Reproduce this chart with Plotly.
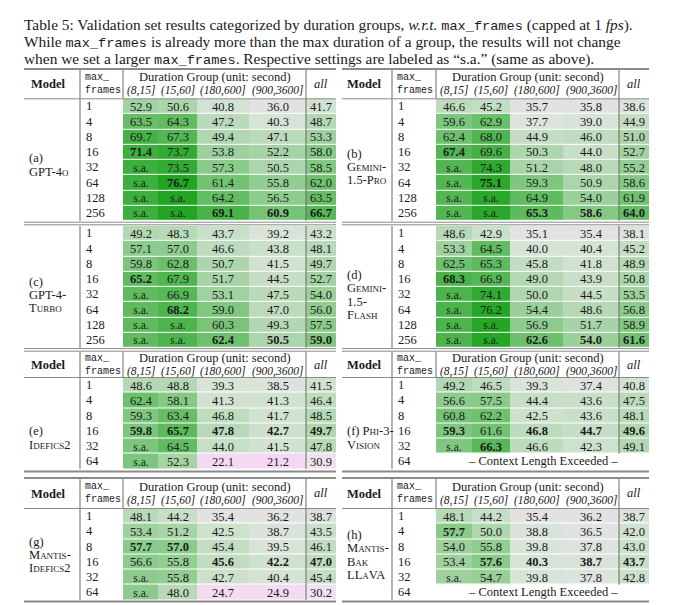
import re
import plotly.graph_objects as go

W, H = 680, 605
SA = None  # printed as "s.a." (same as above)

durations = ["(8,15]", "(15,60]", "(180,600]", "(900,3600]"]
frames_8 = ["1", "4", "8", "16", "32", "64", "128", "256"]
frames_6 = ["1", "4", "8", "16", "32", "64"]

gpt4o = [
    [52.9, 50.6, 40.8, 36.0, 41.7],
    [63.5, 64.3, 47.2, 40.3, 48.7],
    [69.7, 67.3, 49.4, 47.1, 53.3],
    [71.4, 73.7, 53.8, 52.2, 58.0],
    [SA, 73.5, 57.3, 50.5, 58.5],
    [SA, 76.7, 61.4, 55.8, 62.0],
    [SA, SA, 64.2, 56.5, 63.5],
    [SA, SA, 69.1, 60.9, 66.7],
]
gemini_pro = [
    [46.6, 45.2, 35.7, 35.8, 38.6],
    [59.6, 62.9, 37.7, 39.0, 44.9],
    [62.4, 68.0, 44.9, 46.0, 51.0],
    [67.4, 69.6, 50.3, 44.0, 52.7],
    [SA, 74.3, 51.2, 48.0, 55.2],
    [SA, 75.1, 59.3, 50.9, 58.6],
    [SA, SA, 64.9, 54.0, 61.9],
    [SA, SA, 65.3, 58.6, 64.0],
]
gpt4_turbo = [
    [49.2, 48.3, 43.7, 39.2, 43.2],
    [57.1, 57.0, 46.6, 43.8, 48.1],
    [59.8, 62.8, 50.7, 41.5, 49.7],
    [65.2, 67.9, 51.7, 44.5, 52.7],
    [SA, 66.9, 53.1, 47.5, 54.0],
    [SA, 68.2, 59.0, 47.0, 56.0],
    [SA, SA, 60.3, 49.3, 57.5],
    [SA, SA, 62.4, 50.5, 59.0],
]
gemini_flash = [
    [48.6, 42.9, 35.1, 35.4, 38.1],
    [53.3, 64.5, 40.0, 40.4, 45.2],
    [62.5, 65.3, 45.8, 41.8, 48.9],
    [68.3, 66.9, 49.0, 43.9, 50.8],
    [SA, 74.1, 50.0, 44.5, 53.5],
    [SA, 76.2, 54.4, 48.6, 56.8],
    [SA, SA, 56.9, 51.7, 58.9],
    [SA, SA, 62.6, 54.0, 61.6],
]
idefics2 = [
    [48.6, 48.8, 39.3, 38.5, 41.5],
    [62.4, 58.1, 41.3, 41.3, 46.4],
    [59.3, 63.4, 46.8, 41.7, 48.5],
    [59.8, 65.7, 47.8, 42.7, 49.7],
    [SA, 64.5, 44.0, 41.5, 47.8],
    [SA, 52.3, 22.1, 21.2, 30.9],
]
phi3_vision = [  # 64 frames: context length exceeded
    [49.2, 46.5, 39.3, 37.4, 40.8],
    [56.6, 57.5, 44.4, 43.6, 47.5],
    [60.8, 62.2, 42.5, 43.6, 48.1],
    [59.3, 61.6, 46.8, 44.7, 49.6],
    [SA, 66.3, 46.6, 42.3, 49.1],
]
mantis_idefics2 = [
    [48.1, 44.2, 35.4, 36.2, 38.7],
    [53.4, 51.2, 42.5, 38.7, 43.5],
    [57.7, 57.0, 45.4, 39.5, 46.1],
    [56.6, 55.8, 45.6, 42.2, 47.0],
    [SA, 55.8, 42.7, 40.4, 45.4],
    [SA, 48.0, 24.7, 24.9, 30.2],
]
mantis_bakllava = [  # 64 frames: context length exceeded
    [48.1, 44.2, 35.4, 36.2, 38.7],
    [57.7, 50.0, 38.8, 36.5, 42.0],
    [54.0, 55.8, 39.8, 37.8, 43.0],
    [53.4, 57.6, 40.3, 38.7, 43.7],
    [SA, 54.7, 39.8, 37.8, 42.8],
]

# (row, col) of the bold entries
bold_gpt4o = [(3, 0), (5, 1), (7, 2), (7, 3), (7, 4)]
bold_gemini_pro = [(3, 0), (5, 1), (7, 2), (7, 3), (7, 4)]
bold_gpt4_turbo = [(3, 0), (5, 1), (7, 2), (7, 3), (7, 4)]
bold_gemini_flash = [(3, 0), (7, 2), (7, 3), (7, 4)]
bold_idefics2 = [(3, 0), (3, 1), (3, 2), (3, 3), (3, 4)]
bold_phi3 = [(3, 0), (4, 1), (3, 2), (3, 3), (3, 4)]
bold_mantis_idefics2 = [(2, 0), (2, 1), (3, 2), (3, 3), (3, 4)]
bold_mantis_bakllava = [(1, 0), (3, 1), (3, 2), (3, 3), (3, 4)]


def sc(s, size=9):
    # fake small caps: lowercase runs -> smaller capitals
    return re.sub(r"[a-z]+", lambda m: f"<span style='font-size:{size}px'>{m.group(0).upper()}</span>", s)


SERIF = "Liberation Serif"
MONO = "Liberation Mono"
INK = "#1a1a1a"
RULE = "#8a8a8a"

SIDES = {
    "L": dict(x0=24, model=80, data=123, all=306, x1=336, edges=[123, 158, 197, 249, 306, 336]),
    "R": dict(x0=342, model=392, data=436, all=619, x1=649, edges=[436, 472, 510, 563, 619, 649]),
}
ROW_H = 15.25
BLOCKS = {
    "A": dict(head_top=69, rows_top=98.8),
    "C": dict(head_top=None, rows_top=225.8),
    "E": dict(head_top=351.5, rows_top=377.5),
    "G": dict(head_top=478, rows_top=508.5),
}

panels = [
    dict(data=gpt4o, frames=frames_8, bold=bold_gpt4o, side="L", block="A",
         label=["(a)", sc("GPT-4o")], label_y=165),
    dict(data=gemini_pro, frames=frames_8, bold=bold_gemini_pro, side="R", block="A",
         label=["(b)", sc("Gemini-"), sc("1.5-Pro")], label_y=167),
    dict(data=gpt4_turbo, frames=frames_8, bold=bold_gpt4_turbo, side="L", block="C",
         label=["(c)", "GPT-4-", sc("Turbo")], label_y=295),
    dict(data=gemini_flash, frames=frames_8, bold=bold_gemini_flash, side="R", block="C",
         label=["(d)", sc("Gemini-"), "1.5-", sc("Flash")], label_y=295),
    dict(data=idefics2, frames=frames_6, bold=bold_idefics2, side="L", block="E",
         label=["(e)", sc("Idefics2")], label_y=438),
    dict(data=phi3_vision, frames=frames_6, bold=bold_phi3, side="R", block="E",
         label=["(f) " + sc("Phi-3-"), sc("Vision")], label_y=438),
    dict(data=mantis_idefics2, frames=frames_6, bold=bold_mantis_idefics2, side="L", block="G",
         label=["(g)", sc("Mantis-"), sc("Idefics2")], label_y=555),
    dict(data=mantis_bakllava, frames=frames_6, bold=bold_mantis_bakllava, side="R", block="G",
         label=["(h)", sc("Mantis-"), sc("Bak"), sc("LLaVA")], label_y=555),
]

colorscale_pts = [(20, "#f6d6f4"), (30, "#f0e2f0"), (36, "#e2e2e2"), (40, "#d6e4d6"),
                  (46, "#c0dcc0"), (52, "#a6d3a6"), (58, "#86c986"), (64, "#64bd64"),
                  (70, "#44b144"), (78, "#1ca31c")]
ZMIN, ZMAX = 20, 78
colorscale = [[(v - ZMIN) / (ZMAX - ZMIN), c] for v, c in colorscale_pts]


def px(x):
    return x / W


def py(y):
    return 1 - y / H


fig = go.Figure()
annotations = []
shapes = []


def ann(text, x, y, size=12, anchor="center", family=SERIF, **kw):
    d = dict(text=text, x=px(x), y=py(y), xref="paper", yref="paper", showarrow=False,
             xanchor=anchor, yanchor="middle", font=dict(family=family, size=size, color=INK))
    d.update(kw)
    annotations.append(d)


def hline(y, x0, x1, width=1, color=RULE):
    shapes.append(dict(type="line", xref="paper", yref="paper", x0=px(x0), x1=px(x1),
                       y0=py(y), y1=py(y), line=dict(color=color, width=width)))


def vline(x, y0, y1, width=1, color="#6a6a6a"):
    shapes.append(dict(type="line", xref="paper", yref="paper", x0=px(x), x1=px(x),
                       y0=py(y0), y1=py(y1), line=dict(color=color, width=width)))


for k, p in enumerate(panels, start=1):
    s = SIDES[p["side"]]
    b = BLOCKS[p["block"]]
    n = len(p["frames"])
    top = b["rows_top"]
    bot = top + n * ROW_H

    # z: "s.a." cells take the colour of the value they repeat
    z, text = [], []
    last = [None] * 5
    for r, row in enumerate(p["data"]):
        zr, tr = [], []
        for c, v in enumerate(row):
            if v is None:
                zr.append(last[c])
                tr.append("<span style='font-size:11.5px'>s.a.</span>")
            else:
                last[c] = v
                zr.append(v)
                t = f"{v:.1f}"
                tr.append(f"<b>{t}</b>" if (r, c) in p["bold"] else t)
        z.append(zr)
        text.append(tr)

    xa, ya = f"x{k}", f"y{k}"
    fig.add_trace(go.Heatmap(
        z=z, x=s["edges"], y=list(range(len(z))), text=text, texttemplate="%{text}",
        textfont=dict(family=SERIF, size=12.5, color=INK),
        colorscale=colorscale, zmin=ZMIN, zmax=ZMAX, showscale=False, ygap=1,
        hoverinfo="skip", xaxis=xa, yaxis=ya,
    ))
    fig.layout[f"xaxis{k}"] = dict(domain=[px(s["edges"][0]), px(s["edges"][-1])],
                                   range=[s["edges"][0], s["edges"][-1]], visible=False,
                                   anchor=ya, fixedrange=True)
    fig.layout[f"yaxis{k}"] = dict(domain=[py(bot), py(top)], range=[n - 0.5, -0.5],
                                   visible=False, anchor=xa, fixedrange=True)

    # max_frames values
    for r, f in enumerate(p["frames"]):
        annotations.append(dict(text=f, x=px(s["model"] + 4), y=r, xref="paper", yref=ya,
                                showarrow=False, xanchor="left", yanchor="middle",
                                font=dict(family=SERIF, size=12.5, color=INK)))

    # rows with no results
    if len(p["data"]) < n:
        for r in range(len(p["data"]), n):
            annotations.append(dict(text="– Context Length Exceeded –",
                                    x=(s["edges"][0] + s["edges"][-1]) / 2, y=r,
                                    xref=xa, yref=ya, showarrow=False,
                                    font=dict(family=SERIF, size=12.5, color=INK)))
        all_bot = top + len(p["data"]) * ROW_H
    else:
        all_bot = bot

    # model label
    nl = len(p["label"])
    for i, line in enumerate(p["label"]):
        ann(line, s["x0"] + 3, p["label_y"] + (i - (nl - 1) / 2) * 13.2, anchor="left", size=12.5)

    # header
    head_top = b["head_top"]
    if head_top is not None:
        hb = b["rows_top"]
        mid = (head_top + hb) / 2
        ann("<b>Model</b>", (s["x0"] + s["model"]) / 2 - 3, mid + 0.5, size=12.5)
        ann("max_", s["model"] + 3, mid - 6.5, size=10, anchor="left", family=MONO)
        ann("frames", s["model"] + 3, mid + 6.5, size=10, anchor="left", family=MONO)
        ann("Duration Group (unit: second)", (s["data"] + s["all"]) / 2, mid - 6.5, size=12.5)
        for c, d in enumerate(durations):
            ann(f"<i>{d}</i>", (s["edges"][c] + s["edges"][c + 1]) / 2, mid + 7, size=11.5)
        ann("<i>all</i>", (s["all"] + s["x1"]) / 2, mid, size=12.5)
        vline(s["data"], head_top, hb)
        vline(s["model"], head_top, bot)
        vline(s["all"], head_top, all_bot)
        hline(hb, s["x0"], s["x1"], width=1)
    else:
        vline(s["model"], top, bot)
        vline(s["all"], top, all_bot)

# horizontal rules
for side in ("L", "R"):
    s = SIDES[side]
    hline(69, s["x0"], s["x1"], width=1.8)
    hline(222.2, s["x0"], s["x1"], width=1)
    hline(224.8, s["x0"], s["x1"], width=1)
    hline(348.6, s["x0"], s["x1"], width=1)
    hline(351.2, s["x0"], s["x1"], width=1)
    hline(471.5, s["x0"], s["x1"], width=1.8)
    hline(478, s["x0"], s["x1"], width=1.8)
    hline(601.5, s["x0"], s["x1"], width=1.8)

# caption
mono = f"<span style='font-family:{MONO};font-size:13.6px'>max_frames</span>"
caption = [
    f"Table 5: Validation set results categorized by duration groups, <i>w.r.t.</i> {mono} (capped at 1 <i>fps</i>).",
    f"While {mono} is already more than the max duration of a group, the results will not change",
    f"when we set a larger {mono}. Respective settings are labeled as “s.a.” (same as above).",
]
for i, line in enumerate(caption):
    ann(line, 22, 25.5 + i * 16.6, size=15.4, anchor="left")

fig.update_layout(
    width=W, height=H, margin=dict(l=0, r=0, t=0, b=0),
    paper_bgcolor="white", plot_bgcolor="white", showlegend=False,
    annotations=annotations, shapes=shapes,
)
# the page's default body margin would push the figure 8px down and right
fig.write_html("out.html", config={"displayModeBar": False},
               post_script="document.body.style.margin='0';")
